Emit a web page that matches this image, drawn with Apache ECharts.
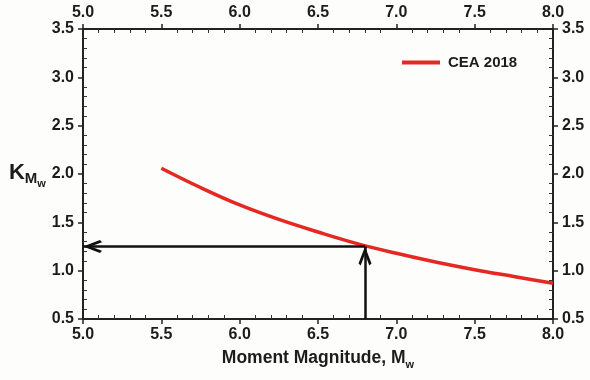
<!DOCTYPE html>
<html>
<head>
<meta charset="utf-8">
<script src="https://cdn.jsdelivr.net/npm/echarts@6/dist/echarts.min.js"></script>
<style>html,body{margin:0;padding:0;background:#fdfdfc;}#c{width:590px;height:380px;}</style>
</head>
<body>
<div id="c"></div>
<script>
// Data
var magnitudes = [5.5, 5.75, 6.0, 6.25, 6.5, 6.75, 7.0, 7.25, 7.5, 7.75, 8.0];
var kValues   = [2.06, 1.86, 1.68, 1.53, 1.40, 1.28, 1.18, 1.09, 1.01, 0.94, 0.87];
var seriesName = 'CEA 2018';
var designMw = 6.8;
var designK = 1.25;
var xRange = [5.0, 8.0];
var yRange = [0.5, 3.5];
var tickStep = 0.5;

var FONT = '"Liberation Sans", Arial, sans-serif';
var TXT = '#1c1c1c';
var lbl = {fontFamily: FONT, fontWeight: 'bold', fontSize: 16, color: TXT, formatter: function (v) { return v.toFixed(1); }};

function majorAxis(pos, showLabel, extra) {
  var isX = pos === 'bottom' || pos === 'top';
  var a = {
    type: 'value', position: pos, min: isX ? xRange[0] : yRange[0],
    max: isX ? xRange[1] : yRange[1], interval: tickStep,
    axisLine: {show: true, onZero: false, lineStyle: {color: '#222', width: 2}},
    axisTick: {show: true, inside: false, length: 5, lineStyle: {color: '#222', width: 1.5}},
    axisLabel: Object.assign({show: showLabel, margin: isX ? 8 : 9}, lbl),
    splitLine: {show: false}
  };
  return Object.assign(a, extra || {});
}
function minorAxis(pos) {
  var isX = pos === 'bottom' || pos === 'top';
  return {
    type: 'value', position: pos, min: isX ? xRange[0] : yRange[0], max: isX ? xRange[1] : yRange[1], interval: tickStep,
    axisLine: {show: false, onZero: false},
    axisTick: {show: false, inside: true},
    minorTick: {show: true, splitNumber: 5, length: 4, lineStyle: {color: '#333', width: 1}},
    axisLabel: {show: false},
    splitLine: {show: false}
  };
}

var chevron = 'path://M0,0 L10,17 L6.6,19 L0,7.6 L-6.6,19 L-10,17 Z';
function tail(c) { return {coord: c, symbol: 'none'}; }
function head(c) { return {coord: c, symbol: chevron, symbolSize: [13, 19], symbolOffset: [0, 9.5]}; }

var chart = echarts.init(document.getElementById('c'), null, {renderer: 'canvas'});
chart.setOption({
  backgroundColor: '#fdfdfc',
  animation: false,
  grid: {left: 83, right: 37, top: 29, bottom: 61},
  legend: {
    data: [seriesName], left: 402, top: 55, padding: 0, icon: 'rect', itemWidth: 38, itemHeight: 4, itemGap: 0,
    textStyle: {fontFamily: FONT, fontWeight: 'bold', fontSize: 15, color: TXT, padding: [0, 0, 0, 3]}
  },
  xAxis: [
    majorAxis('bottom', true, {
      name: '{t|Moment Magnitude, M}{s|w}', nameLocation: 'middle', nameGap: 30,
      nameTextStyle: {rich: {
        t: {fontFamily: FONT, fontWeight: 'bold', fontSize: 17.5, color: TXT, verticalAlign: 'top', lineHeight: 20},
        s: {fontFamily: FONT, fontWeight: 'bold', fontSize: 11, color: TXT, verticalAlign: 'top', lineHeight: 20, padding: [10, 0, 0, 0]}
      }}
    }),
    majorAxis('top', true),
    minorAxis('bottom'),
    minorAxis('top')
  ],
  yAxis: [
    majorAxis('left', true, {
      name: '{k|K}{m|M}{w|w}', nameLocation: 'middle', nameRotate: 0, nameGap: 37,
      nameTextStyle: {align: 'right', rich: {
        k: {fontFamily: FONT, fontWeight: 'bold', fontSize: 22, color: TXT, verticalAlign: 'top', lineHeight: 24},
        m: {fontFamily: FONT, fontWeight: 'bold', fontSize: 15, color: TXT, verticalAlign: 'top', lineHeight: 24, padding: [9, 0, 0, 0]},
        w: {fontFamily: FONT, fontWeight: 'bold', fontSize: 11, color: TXT, verticalAlign: 'top', lineHeight: 24, padding: [16, 0, 0, 0]}
      }}
    }),
    majorAxis('right', true),
    minorAxis('left'),
    minorAxis('right')
  ],
  series: [
    {
      name: seriesName, type: 'line', xAxisIndex: 0, yAxisIndex: 0,
      data: magnitudes.map(function (m, i) { return [m, kValues[i]]; }),
      smooth: 0.4, showSymbol: false, symbol: 'none',
      lineStyle: {color: '#e52822', width: 3.5}, itemStyle: {color: '#e52822'}, z: 3
    },
    {
      name: 'arrows', type: 'line', xAxisIndex: 0, yAxisIndex: 0, data: [], silent: true,
      markLine: {
        silent: true, animation: false,
        symbol: ['none', 'none'],
        label: {show: false},
        lineStyle: {color: '#111', width: 2.5, type: 'solid'},
        data: [
          [tail([designMw, yRange[0]]), head([designMw, designK])],
          [tail([designMw, designK]), head([xRange[0], designK])]
        ]
      },
      z: 4
    }
  ]
});
</script>
</body>
</html>
